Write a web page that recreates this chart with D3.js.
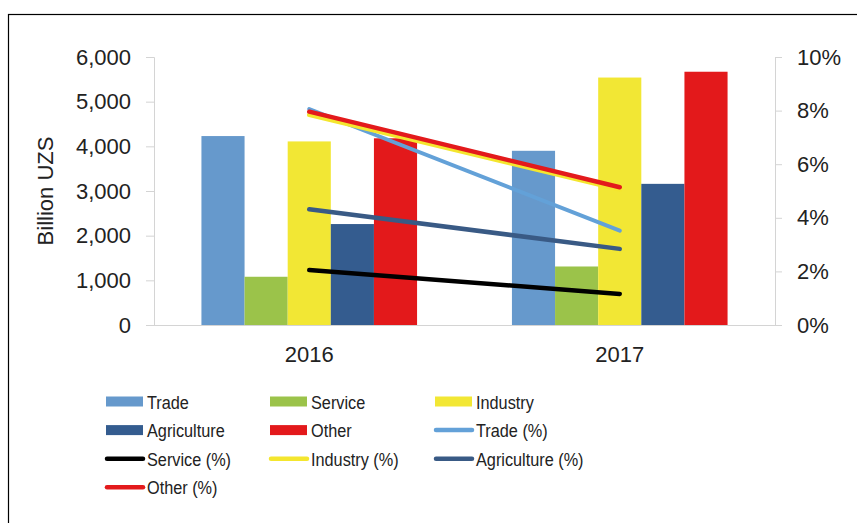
<!DOCTYPE html>
<html>
<head>
<meta charset="utf-8">
<script src="https://cdn.jsdelivr.net/npm/d3@7"></script>
<style>
  body { margin: 0; background: #fff; }
  svg { display: block; font-family: "Liberation Sans", Arial, sans-serif; }
</style>
</head>
<body>
<div id="chart"></div>
<script>
// Data
const years = ["2016", "2017"];
const sectors = ["Trade", "Service", "Industry", "Agriculture", "Other"];
const trade = [4230, 3900];
const service = [1080, 1310];
const industry = [4110, 5540];
const agriculture = [2260, 3160];
const other = [4180, 5670];
const tradePct = [8.06, 3.52];
const servicePct = [2.05, 1.16];
const industryPct = [7.84, 5.05];
const agriculturePct = [4.32, 2.84];
const otherPct = [7.96, 5.14];
const leftTicks = [0, 1000, 2000, 3000, 4000, 5000, 6000];
const rightTicks = [0, 2, 4, 6, 8, 10];

const barColor = {
  Trade: "#6699cc", Service: "#9bc34a", Industry: "#f2e734",
  Agriculture: "#345c8f", Other: "#e3191b"
};
const lineColor = {
  Trade: "#63a1d8", Service: "#000000", Industry: "#f4e62e",
  Agriculture: "#395a85", Other: "#e31a1c"
};

const barValues = { Trade: trade, Service: service, Industry: industry, Agriculture: agriculture, Other: other };
const pctValues = { Trade: tradePct, Service: servicePct, Industry: industryPct, Agriculture: agriculturePct, Other: otherPct };

const width = 857, height = 523;
const plotLeft = 154, plotRight = 775, plotTop = 57, plotBottom = 325;

const svg = d3.select("#chart").append("svg")
  .attr("width", width)
  .attr("height", height);

// outer frame
svg.append("rect")
  .attr("x", 8.5).attr("y", 14.5)
  .attr("width", 900).attr("height", 600)
  .attr("fill", "none").attr("stroke", "#000").attr("stroke-width", 1.2);

const x0 = d3.scaleBand().domain(years).range([plotLeft, plotRight]);
const bw = x0.bandwidth();
const groupW = bw / 1.44;
const x1 = d3.scaleBand().domain(sectors)
  .range([(bw - groupW) / 2, (bw + groupW) / 2]);

const y = d3.scaleLinear().domain([0, 6000]).range([plotBottom, plotTop]);
const yPct = d3.scaleLinear().domain([0, 10]).range([plotBottom, plotTop]);

// axes
const axisColor = "#d4d4d4";
const gl = svg.append("g").attr("transform", `translate(${plotLeft},0)`)
  .call(d3.axisLeft(y).tickValues(leftTicks).tickFormat(d3.format(",")).tickSize(8).tickPadding(15));
const gr = svg.append("g").attr("transform", `translate(${plotRight},0)`)
  .call(d3.axisRight(yPct).tickValues(rightTicks).tickFormat(d => d + "%").tickSize(7).tickPadding(15));
[gl, gr].forEach(g => {
  g.select(".domain").attr("stroke", axisColor);
  g.selectAll(".tick line").attr("stroke", axisColor);
  g.selectAll(".tick text").attr("fill", "#222").style("font-size", "22px")
    .style("font-family", "'Liberation Sans', Arial, sans-serif");
});

svg.append("line")
  .attr("x1", plotLeft).attr("x2", plotRight)
  .attr("y1", plotBottom + 0.5).attr("y2", plotBottom + 0.5)
  .attr("stroke", axisColor);

// category labels
svg.append("g").selectAll("text")
  .data(years)
  .join("text")
  .attr("x", d => x0(d) + bw / 2)
  .attr("y", 362)
  .attr("text-anchor", "middle")
  .attr("fill", "#222")
  .style("font-size", "22px")
  .text(d => d);

// y title
svg.append("text")
  .attr("transform", "translate(53,191) rotate(-90)")
  .attr("text-anchor", "middle")
  .attr("fill", "#222")
  .style("font-size", "22px")
  .text("Billion UZS");

// bars
const groups = svg.append("g").selectAll("g")
  .data(years)
  .join("g")
  .attr("transform", d => `translate(${x0(d)},0)`);

groups.selectAll("rect")
  .data((d, i) => sectors.map(s => ({ s, v: barValues[s][i] })))
  .join("rect")
  .attr("x", d => x1(d.s))
  .attr("width", x1.bandwidth())
  .attr("y", d => y(d.v))
  .attr("height", d => plotBottom - y(d.v))
  .attr("fill", d => barColor[d.s]);

// percentage lines
const line = d3.line()
  .x((d, i) => x0(years[i]) + bw / 2)
  .y(d => yPct(d));

svg.append("g").selectAll("path")
  .data(sectors)
  .join("path")
  .attr("d", s => line(pctValues[s]))
  .attr("fill", "none")
  .attr("stroke", s => lineColor[s])
  .attr("stroke-width", s => s === "Trade" ? 4 : 4.5)
  .attr("stroke-linecap", "round");

// legend
const legendData = sectors.map(s => ({ label: s, type: "bar", color: barColor[s] }))
  .concat(sectors.map(s => ({ label: s + " (%)", type: "line", color: lineColor[s] })));

const colX = [106, 270, 435];
const legendItems = svg.append("g").selectAll("g")
  .data(legendData)
  .join("g")
  .attr("transform", (d, i) => `translate(${colX[i % 3]},${401.5 + Math.floor(i / 3) * 28.6})`);

legendItems.filter(d => d.type === "bar").append("rect")
  .attr("x", 0).attr("y", -5)
  .attr("width", 37).attr("height", 10)
  .attr("fill", d => d.color);

legendItems.filter(d => d.type === "line").append("line")
  .attr("x1", 1).attr("x2", 37)
  .attr("y1", 0).attr("y2", 0)
  .attr("stroke", d => d.color)
  .attr("stroke-width", 4.5)
  .attr("stroke-linecap", "round");

// legend text in the picture is a little condensed
legendItems.append("text")
  .attr("transform", "translate(41,7) scale(0.88,1)")
  .attr("fill", "#222")
  .style("font-size", "18.5px")
  .text(d => d.label);
</script>
</body>
</html>
